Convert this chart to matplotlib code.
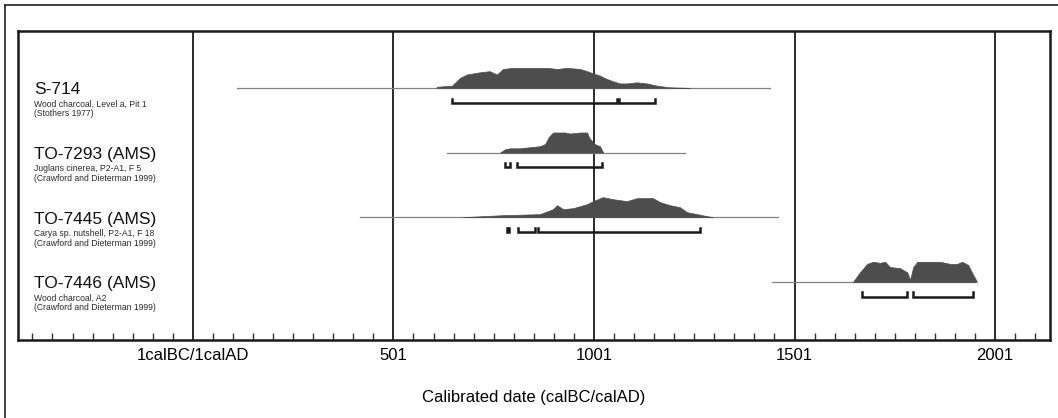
import matplotlib
matplotlib.use("Agg")
import matplotlib.pyplot as plt
from matplotlib.lines import Line2D
import numpy as np

plt.rcParams['font.family'] = ['Liberation Sans', 'DejaVu Sans']

# --- sample labels ---
names = ["S-714", "TO-7293 (AMS)", "TO-7445 (AMS)", "TO-7446 (AMS)"]
materials = ["Wood charcoal, Level a, Pit 1",
             "Juglans cinerea, P2-A1, F 5",
             "Carya sp. nutshell, P2-A1, F 18",
             "Wood charcoal, A2"]
refs = ["(Stothers 1977)",
        "(Crawford and Dieterman 1999)",
        "(Crawford and Dieterman 1999)",
        "(Crawford and Dieterman 1999)"]

# --- calibrated probability distributions (year calAD, relative prob.) ---
s714_years = [609, 647, 667, 684, 716, 741, 759, 774, 799, 884, 909, 934, 966,
              984, 999, 1016, 1033, 1048, 1066, 1083, 1108, 1133, 1158, 1190, 1240]
s714_prob = [1, 2, 9, 12, 14, 15, 12, 17, 18, 18, 17, 18, 17,
             15, 13, 11, 8, 6, 4, 4, 5, 4, 2, 0.5, 0]

to7293_years = [767, 779, 791, 816, 841, 866, 879, 889, 899, 929, 941, 966,
                984, 989, 1003, 1016, 1024]
to7293_prob = [0, 3, 4, 4, 5, 6, 8, 15, 19, 19, 18, 19, 19, 14, 8, 6, 0]

to7445_years = [674, 774, 866, 899, 909, 924, 949, 984, 999, 1023, 1048, 1083,
                1108, 1148, 1166, 1190, 1215, 1233, 1258, 1283, 1298]
to7445_prob = [0, 2, 3, 8, 12, 8, 9, 13, 16, 20, 18, 16, 19, 19, 15, 12, 10,
               5, 3, 1, 0]

to7446_years = [1647, 1664, 1682, 1697, 1714, 1727, 1739, 1764, 1782, 1789,
                1797, 1807, 1864, 1889, 1906, 1919, 1934, 1946, 1956]
to7446_prob = [0, 9, 17, 19, 18, 19, 14, 13, 9, 2, 14, 19, 19, 17, 17, 19,
               16, 7, 0]

# extent of the thin line under each distribution
line_extent = [(111, 1440), (634, 1228), (417, 1460), (1445, 1951)]

# 95.4% ranges
ranges = [[(647, 1058), (1064, 1153)],
          [(779, 791), (809, 1021)],
          [(784, 790), (812, 854), (861, 1265)],
          [(1669, 1782), (1797, 1946)]]

dists = [(s714_years, s714_prob), (to7293_years, to7293_prob),
         (to7445_years, to7445_prob), (to7446_years, to7446_prob)]

grid_years = [1, 501, 1001, 1501, 2001]
grid_labels = ["1calBC/1calAD", "501", "1001", "1501", "2001"]

fig = plt.figure(figsize=(10.58, 4.18), dpi=100)
ax = fig.add_axes([18 / 1058, 78 / 418, 1032 / 1058, 309 / 418])

ax.set_xlim(-435, 2138)
ax.set_ylim(3.9, -0.88)

peak_h = 0.31
bar_off = 0.23
tick_h = 0.065

for i, (yrs, prob) in enumerate(dists):
    yrs = np.array(yrs, dtype=float)
    prob = np.array(prob, dtype=float)
    h = prob / prob.max() * peak_h
    ax.plot(line_extent[i], [i, i], color='#808080', lw=0.9, zorder=2)
    ax.fill_between(yrs, i, i - h, color='#4d4d4d', lw=0.5,
                    edgecolor='#4d4d4d', zorder=3)
    yb = i + bar_off
    for (a, b) in ranges[i]:
        ax.plot([a, a, b, b], [yb - tick_h, yb, yb, yb - tick_h],
                color='#1a1a1a', lw=1.8, solid_joinstyle='miter', zorder=4)

# vertical grid lines
for g in grid_years:
    ax.axvline(g, color='#1a1a1a', lw=1.3, zorder=1)

# minor ticks every 50 years
ax.set_xticks(grid_years)
ax.set_xticklabels(grid_labels, fontsize=12)
ax.set_xticks(np.arange(-399, 2138, 50), minor=True)
ax.tick_params(axis='x', which='both', direction='in', length=5, width=1,
               color='#333333', pad=6)
ax.tick_params(axis='x', which='major', length=0)
ax.set_yticks([])
for s in ax.spines.values():
    s.set_linewidth(1.8)
    s.set_color('#1a1a1a')

ax.set_xlabel("Calibrated date (calBC/calAD)", fontsize=12, labelpad=19)

# sample labels in the left column
trans = ax.get_yaxis_transform()
for i in range(len(names)):
    ax.text(0.0155, i + 0.03, names[i], transform=trans, fontsize=12.5,
            va='center', ha='left', color='#111111')
    ax.text(0.0155, i + 0.25, materials[i], transform=trans, fontsize=6.2,
            va='center', ha='left', color='#2a2a2a')
    ax.text(0.0155, i + 0.40, refs[i], transform=trans, fontsize=6.2,
            va='center', ha='left', color='#2a2a2a')

# outer frame (left and top edges)
fig.add_artist(Line2D([5 / 1058, 5 / 1058], [0, 1 - 5 / 418],
                      transform=fig.transFigure, color='#222222', lw=1.2))
fig.add_artist(Line2D([5 / 1058, 1], [1 - 5 / 418, 1 - 5 / 418],
                      transform=fig.transFigure, color='#222222', lw=1.2))

fig.savefig("out.png", dpi=100)
